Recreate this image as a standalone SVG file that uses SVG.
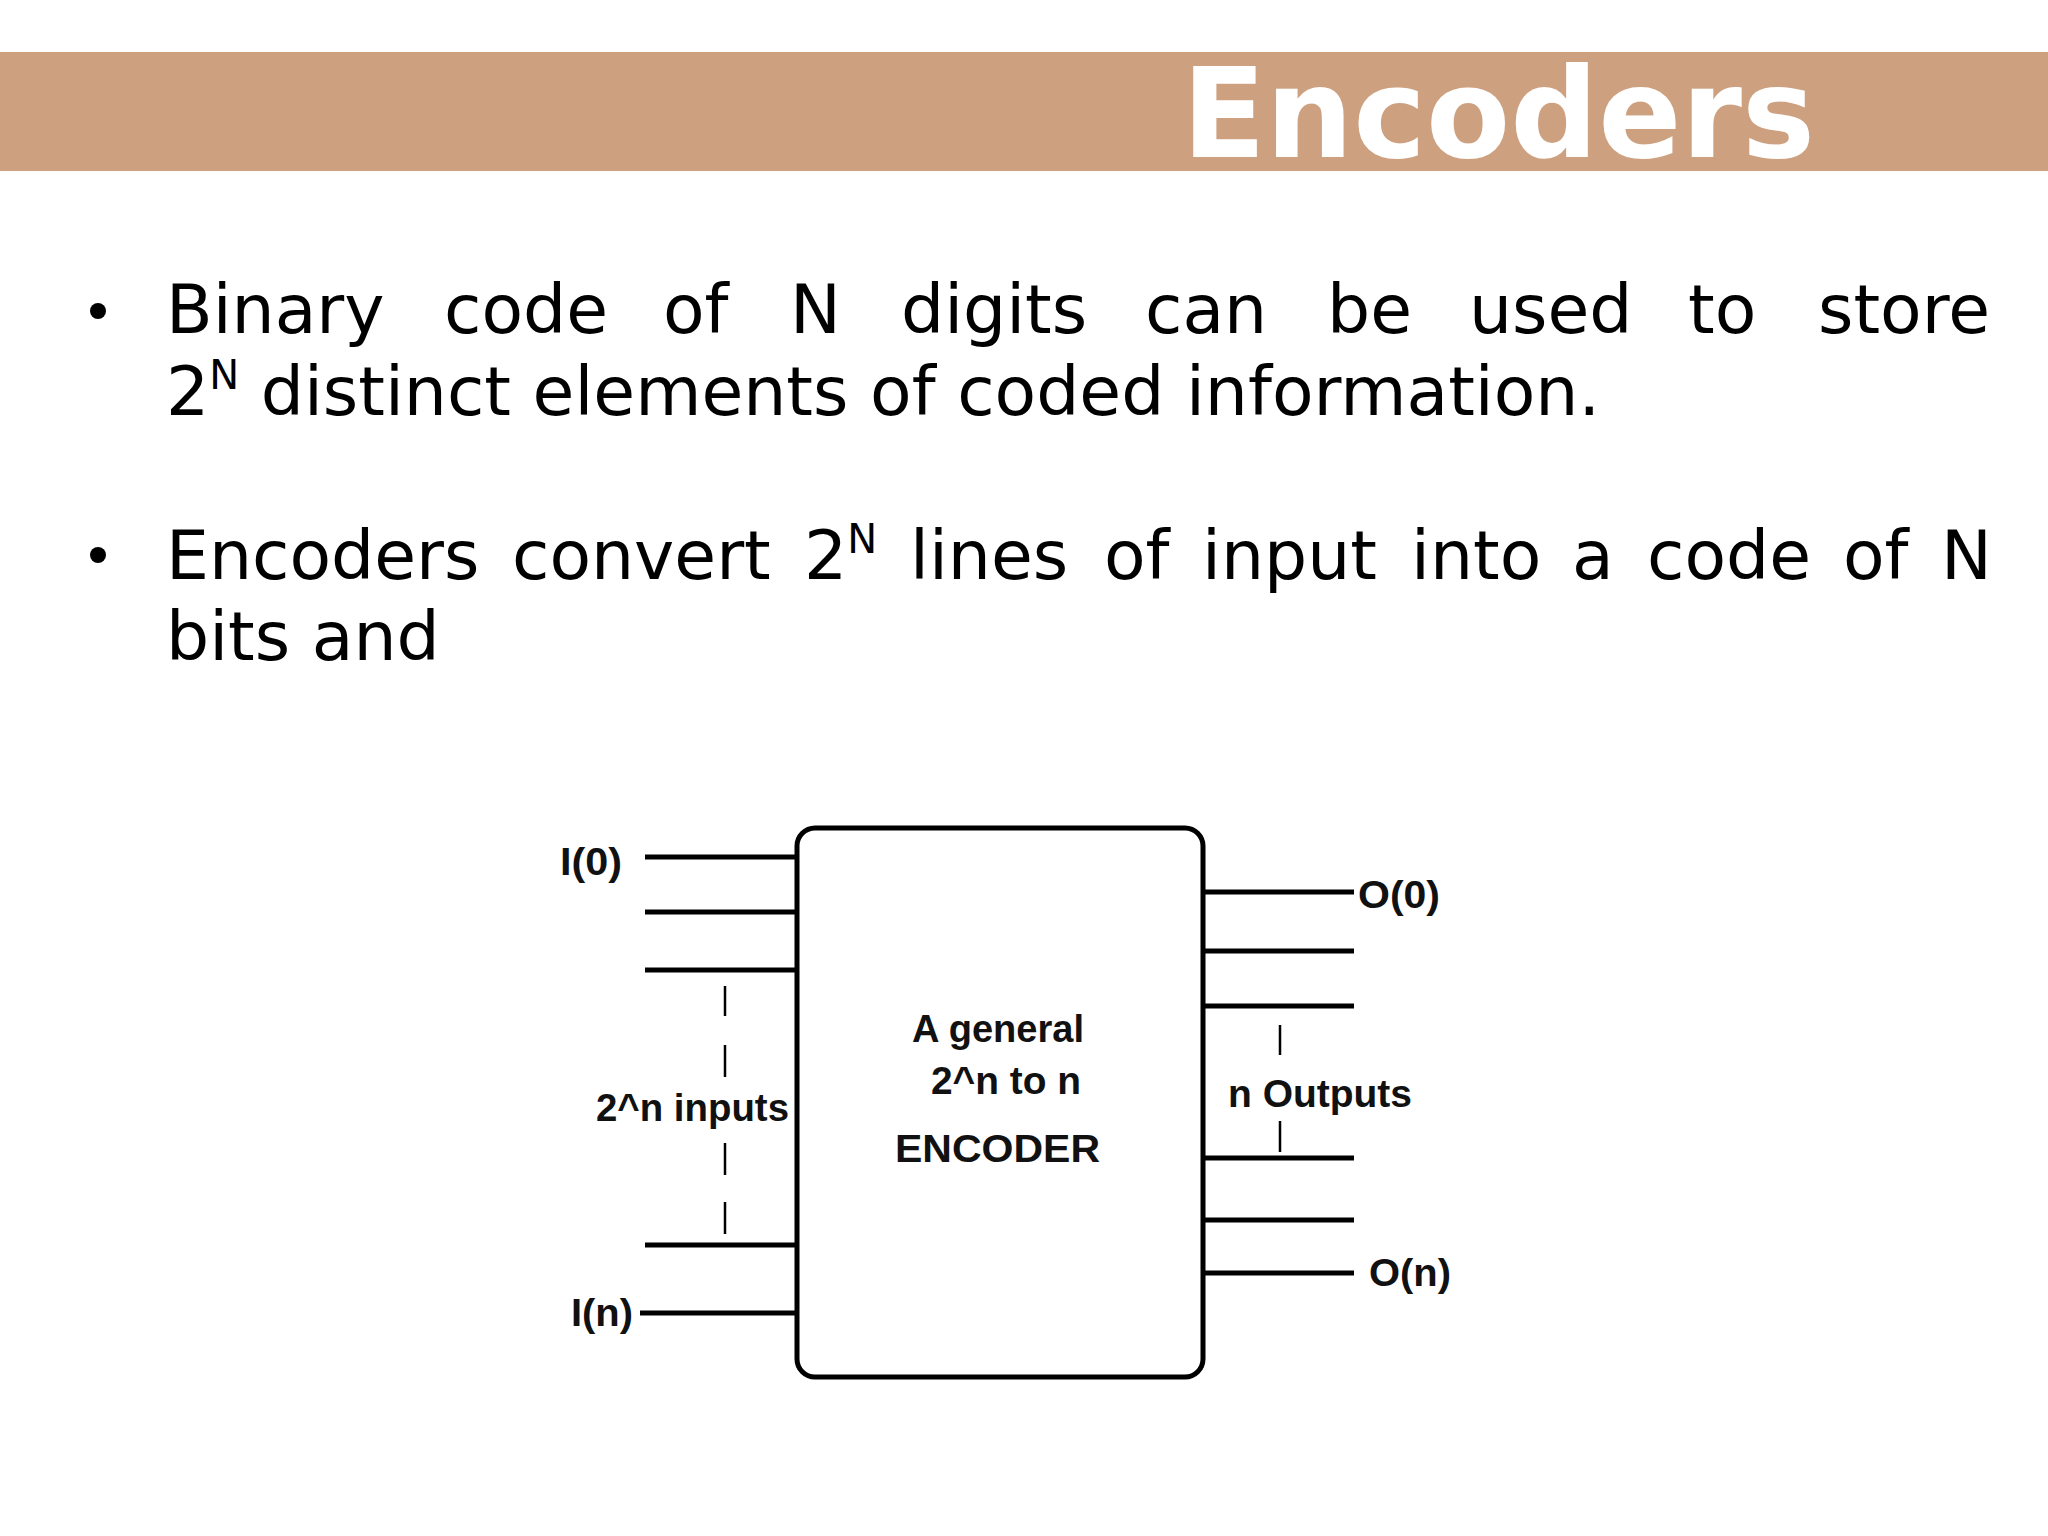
<svg xmlns="http://www.w3.org/2000/svg" width="2048" height="1536" viewBox="0 0 2048 1536">
<style>
.b{font-family:"DejaVu Sans",Verdana,sans-serif;font-size:68px;fill:#000}
.s{font-size:40px}
.l{font-family:"Liberation Sans",Arial,sans-serif;font-weight:bold;font-size:38px;fill:#111}
.w{stroke:#000;stroke-width:5;fill:none}
.d{stroke:#000;stroke-width:2.5}
</style>
<rect width="2048" height="1536" fill="#fff"/>
<rect x="0" y="52" width="2048" height="119" fill="#CDA180"/>
<text x="1182" y="157" font-family="DejaVu Sans,Verdana,sans-serif" font-weight="bold" font-size="125" fill="#fff" textLength="633" lengthAdjust="spacingAndGlyphs">Encoders</text>
<g id="bullets" class="b">
<circle cx="98" cy="311" r="8"/>
<circle cx="98" cy="555" r="8"/>
<text y="333"><tspan x="166">Binary</tspan><tspan x="444">code</tspan><tspan x="663">of</tspan><tspan x="790">N</tspan><tspan x="901">digits</tspan><tspan x="1145">can</tspan><tspan x="1327">be</tspan><tspan x="1469">used</tspan><tspan x="1688">to</tspan><tspan x="1818">store</tspan></text>
<text x="166" y="415">2<tspan class="s" dy="-26">N</tspan><tspan dy="26"> distinct elements of coded information.</tspan></text>
<text y="579"><tspan x="166">Encoders</tspan><tspan x="512">convert</tspan><tspan x="804">2</tspan><tspan class="s" dy="-26">N</tspan><tspan x="910" dy="26">lines</tspan><tspan x="1104">of</tspan><tspan x="1202">input</tspan><tspan x="1411">into</tspan><tspan x="1572">a</tspan><tspan x="1647">code</tspan><tspan x="1843">of</tspan><tspan x="1941">N</tspan></text>
<text x="166" y="660">bits and</text>
</g>
<g id="encoder">
<rect x="797" y="828" width="406" height="549" rx="18" class="w"/>
<text class="l" x="912" y="1042" textLength="172" lengthAdjust="spacingAndGlyphs">A general</text>
<text class="l" x="931" y="1094" textLength="150" lengthAdjust="spacingAndGlyphs">2^n to n</text>
<text class="l" x="895" y="1162" font-size="44" textLength="205" lengthAdjust="spacingAndGlyphs">ENCODER</text>
</g>
<g id="connectors">
<path class="w" d="M645 857H797M645 912H797M645 970H797M645 1245H797M640 1313H797"/>
<path class="w" d="M1203 892H1354M1203 951H1354M1203 1006H1354M1203 1158H1354M1203 1220H1354M1203 1273H1354"/>
<path class="d" d="M725 986V1016M725 1045V1077M725 1143V1175M725 1202V1234M1280 1025V1055M1280 1121V1152"/>
</g>
<g id="labels">
<text class="l" x="560" y="875" textLength="62" lengthAdjust="spacingAndGlyphs">I(0)</text>
<text class="l" x="571" y="1326" textLength="62" lengthAdjust="spacingAndGlyphs">I(n)</text>
<text class="l" x="596" y="1121" textLength="193" lengthAdjust="spacingAndGlyphs">2^n inputs</text>
<text class="l" x="1358" y="908" textLength="82" lengthAdjust="spacingAndGlyphs">O(0)</text>
<text class="l" x="1369" y="1286" textLength="82" lengthAdjust="spacingAndGlyphs">O(n)</text>
<text class="l" x="1228" y="1107" textLength="184" lengthAdjust="spacingAndGlyphs">n Outputs</text>
</g>
</svg>
